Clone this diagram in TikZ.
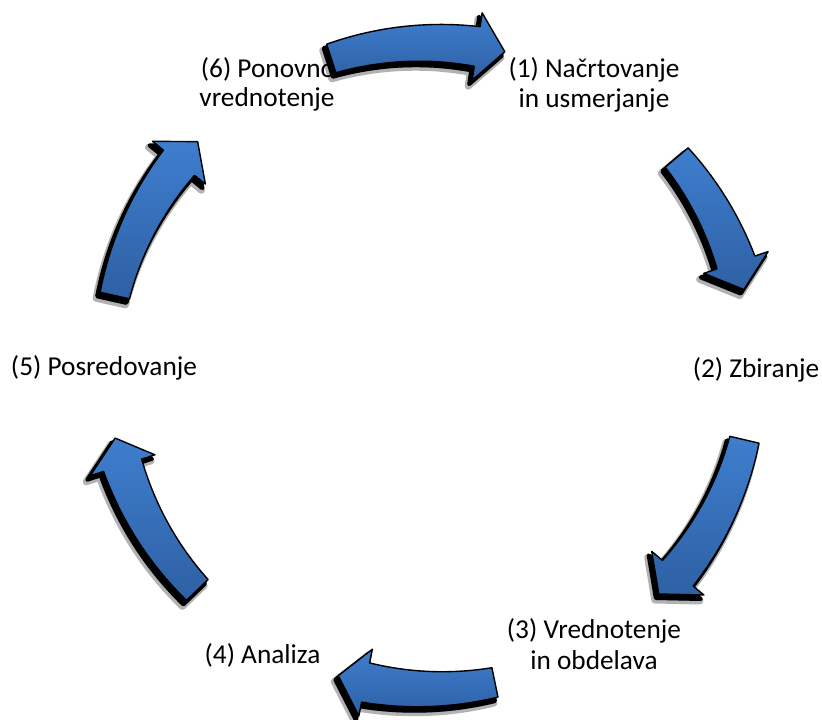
\documentclass[tikz,border=0pt]{standalone}
\usepackage{fontspec}
\setmainfont{Carlito}
\definecolor{atop}{RGB}{62,126,206}
\definecolor{abot}{RGB}{46,96,164}
\def\CX{430}\def\CY{366}\def\RR{323}
\def\WT{15}\def\WB{20}\def\WH{34}\def\HA{5}
\newcommand\ArrPath{plot[domain=\aT:\aB,samples=30,variable=\q]
 ({\CX+(\RR+\WT+(\WB-\WT)*(\aT-\q)/(\aT-\aB))*cos(\q)},{\CY-(\RR+\WT+(\WB-\WT)*(\aT-\q)/(\aT-\aB))*sin(\q)})
 -- ({\CX+(\RR+\WH)*cos(\aB)},{\CY-(\RR+\WH)*sin(\aB)})
 -- ({\CX+\RR*cos(\aP)},{\CY-\RR*sin(\aP)})
 -- ({\CX+(\RR-\WH)*cos(\aB)},{\CY-(\RR-\WH)*sin(\aB)})
 -- plot[domain=\aB:\aT,samples=30,variable=\q]
 ({\CX+(\RR-\WT-(\WB-\WT)*(\aT-\q)/(\aT-\aB))*cos(\q)},{\CY-(\RR-\WT-(\WB-\WT)*(\aT-\q)/(\aT-\aB))*sin(\q)})
 -- cycle}
\newcommand\cycarrow[2]{%
 \pgfmathsetmacro\aT{#1}\pgfmathsetmacro\aP{#2}\pgfmathsetmacro\aB{#2+\HA}%
 \path[shadowA] \ArrPath;
 \path[shadowB] \ArrPath;
 \path[arrbody] \ArrPath;}
\begin{document}
\begin{tikzpicture}[x=1pt,y=-1pt,
  lbl/.style={anchor=base, inner sep=0pt, font=\fontsize{27.3}{30}\selectfont, text=black},
  shadowA/.style={fill=black, draw=black, opacity=0.3, line width=7pt, line join=round, shift={(-4,6)}},
  shadowB/.style={fill=black, draw=black, line width=4pt, line join=round, shift={(-3,4)}},
  arrbody/.style={top color=atop, bottom color=abot, draw=black, line width=1.4pt, line join=round}]
\useasboundingbox (0,0) rectangle (822,720);
% labels
\node[lbl] (n1a) at (594,77) {(1) Načrtovanje};
\node[lbl] (n1b) at (594,107) {in usmerjanje};
\node[lbl] (n2) at (756,377) {(2) Zbiranje};
\node[lbl] (n3a) at (594,638) {(3) Vrednotenje};
\node[lbl] (n3b) at (594,669) {in obdelava};
\node[lbl] (n4) at (262.5,663) {(4) Analiza};
\node[lbl] (n5) at (104,375) {(5) Posredovanje};
\node[lbl] (n6a) at (268,77) {(6) Ponovno};
\node[lbl] (n6b) at (267,106) {vrednotenje};
% arrows
\cycarrow{107.8}{76.6}
\cycarrow{40.2}{13.7}
\cycarrow{-13.2}{-44.9}
\cycarrow{-78.4}{-106.5}
\cycarrow{-136.1}{-167.1}
\cycarrow{167.4}{136}
\end{tikzpicture}
\end{document}
